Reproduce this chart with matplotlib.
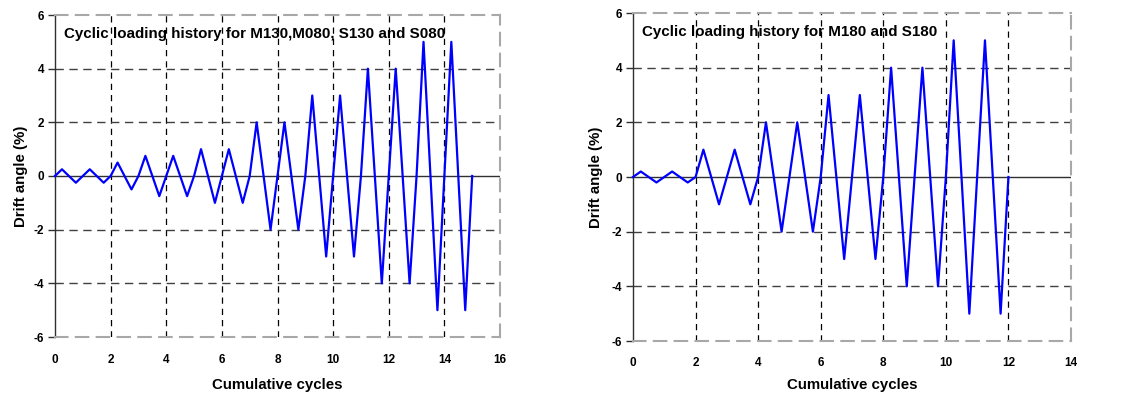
import matplotlib
matplotlib.use("Agg")
import matplotlib.pyplot as plt

plt.rcParams['font.family'] = ['Liberation Sans', 'DejaVu Sans']

# ---- data ----
left_cycles = [0, 0.25, 0.75, 1.25, 1.75, 2, 2.25, 2.75, 3, 3.25, 3.75, 4.25, 4.75, 5,
               5.25, 5.75, 6.25, 6.75, 7, 7.25, 7.75, 8.25, 8.75, 9, 9.25, 9.75, 10.25,
               10.75, 11, 11.25, 11.75, 12.25, 12.75, 13, 13.25, 13.75, 14.25, 14.75, 15]
left_drift = [0, 0.25, -0.25, 0.25, -0.25, 0, 0.5, -0.5, 0, 0.75, -0.75, 0.75, -0.75, 0,
              1, -1, 1, -1, 0, 2, -2, 2, -2, 0, 3, -3, 3, -3, 0, 4, -4, 4, -4, 0,
              5, -5, 5, -5, 0]
right_cycles = [0, 0.25, 0.75, 1.25, 1.75, 2, 2.25, 2.75, 3.25, 3.75, 4, 4.25, 4.75, 5.25,
                5.75, 6, 6.25, 6.75, 7.25, 7.75, 8, 8.25, 8.75, 9.25, 9.75, 10, 10.25,
                10.75, 11.25, 11.75, 12]
right_drift = [0, 0.2, -0.2, 0.2, -0.2, 0, 1, -1, 1, -1, 0, 2, -2, 2, -2, 0, 3, -3, 3, -3,
               0, 4, -4, 4, -4, 0, 5, -5, 5, -5, 0]

left_title = "Cyclic loading history for M130,M080, S130 and S080"
right_title = "Cyclic loading history for M180 and S180"
left_xticks = [0, 2, 4, 6, 8, 10, 12, 14, 16]
right_xticks = [0, 2, 4, 6, 8, 10, 12, 14]
yticks = [-6, -4, -2, 0, 2, 4, 6]
xlabel = "Cumulative cycles"
ylabel = "Drift angle (%)"

W, H = 1122, 394
fig = plt.figure(figsize=(W / 100, H / 100), dpi=100)


def make_axes(px0, px1, py0, py1):
    return fig.add_axes([px0 / W, 1 - py1 / H, (px1 - px0) / W, (py1 - py0) / H])


def draw(ax, xs, ys, xticks, title, xmax, ylab_right_px, xlab_top_px, xtick_pad, box):
    px0, px1, py0, py1 = box
    ax.set_xlim(0, xmax)
    ax.set_ylim(-6, 6)
    # grid
    for xv in xticks[1:-1]:
        ax.axvline(xv, color='black', lw=0.9, ls=(0, (5, 4)), zorder=1)
    for yv in [-4, -2, 2, 4]:
        ax.axhline(yv, color='#404040', lw=1.0, ls=(0, (6, 4)), zorder=1)
    ax.axhline(0, color='#303030', lw=1.0, zorder=2)
    ax.plot(xs, ys, color='#0000ff', lw=1.6, zorder=3, clip_on=False)
    for s in ['top', 'right', 'bottom']:
        ax.spines[s].set_color('#a8a8a8')
        ax.spines[s].set_linewidth(1.5)
        ax.spines[s].set_linestyle((0, (6, 4)))
    ax.spines['left'].set_color('#303030')
    ax.spines['left'].set_linewidth(1.0)
    ax.set_xticks(xticks)
    ax.set_yticks(yticks)
    ax.set_xticklabels([str(v) for v in xticks], fontsize=8.5, fontweight='bold')
    ax.set_yticklabels([str(v) for v in yticks], fontsize=8.5, fontweight='bold')
    ax.tick_params(axis='x', length=0, pad=xtick_pad)
    ax.tick_params(axis='y', length=5, width=1, color='#303030', pad=3)
    ax.set_xlabel(xlabel, fontsize=10.8, fontweight='bold')
    ax.set_ylabel(ylabel, fontsize=10.8, fontweight='bold')
    ax.yaxis.set_label_coords((ylab_right_px - px0) / (px1 - px0), 0.5)
    ax.xaxis.set_label_coords(0.5, -(xlab_top_px - py1) / (py1 - py0))
    ax.text(0.02, (5.3 + 6) / 12, title, transform=ax.transAxes, fontsize=10.9,
            fontweight='bold', ha='left', va='center', zorder=0)


box1 = (55, 500, 15, 337)
ax1 = make_axes(*box1)
draw(ax1, left_cycles, left_drift, left_xticks, left_title, 16, 28, 378, 12, box1)

box2 = (633, 1071, 13, 341)
ax2 = make_axes(*box2)
draw(ax2, right_cycles, right_drift, right_xticks, right_title, 14, 603, 378, 11.5, box2)

fig.savefig("out.png", dpi=100)
